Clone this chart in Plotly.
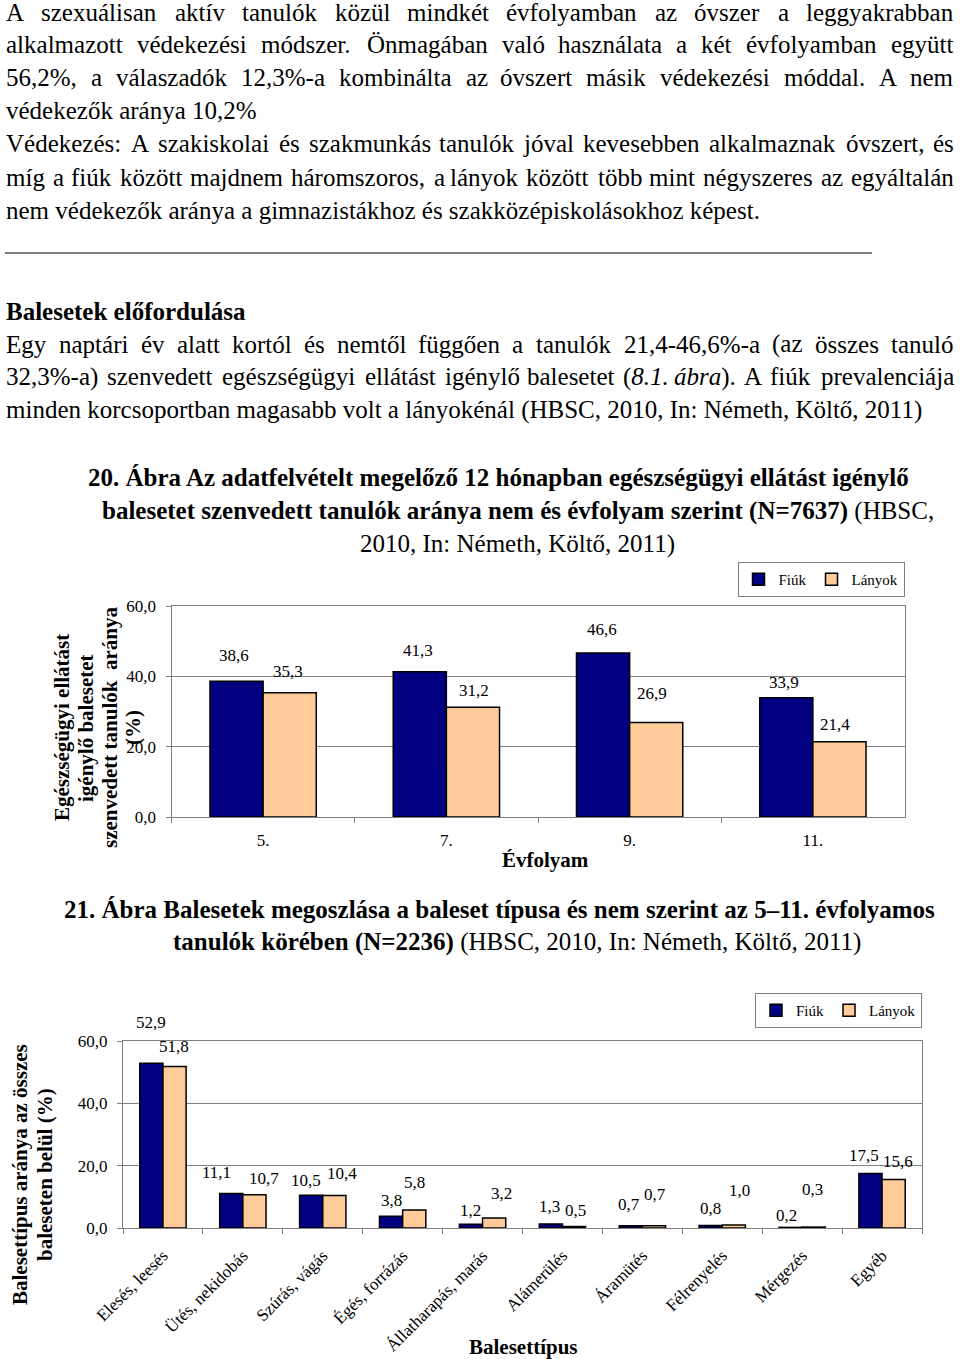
import re
import unicodedata
import plotly.graph_objects as go

# ---------------- data ----------------
series_names = ["Fiúk", "Lányok"]
series_colors = ["#000080", "#FFCC99"]

grades = ["5.", "7.", "9.", "11."]
boys_grade = [38.6, 41.3, 46.6, 33.9]
girls_grade = [35.3, 31.2, 26.9, 21.4]

acc_types = ["Elesés, leesés", "Ütés, nekidobás", "Szúrás, vágás", "Égés, forrázás",
             "Állatharapás, marás", "Alámerülés", "Áramütés", "Félrenyelés",
             "Mérgezés", "Egyéb"]
boys_type = [52.9, 11.1, 10.5, 3.8, 1.2, 1.3, 0.7, 0.8, 0.2, 17.5]
girls_type = [51.8, 10.7, 10.4, 5.8, 3.2, 0.5, 0.7, 1.0, 0.3, 15.6]

y_ticks = [0, 20, 40, 60]

# label pixel nudges (style only): (dx, dy) ; dy>0 = upward
lab1_boys = [(-3, 26), (-2, 21), (-1, 24), (-2, 15)]
lab1_girls = [(-2, 21), (1, 17), (-4, 29), (-4, 17)]
lab2_boys = [(0, 41), (-15, 21), (-5, 15), (0, 16), (0, 14), (-1, 17), (-2, 21), (0, 17), (-4, 12), (-6, 18)]
lab2_girls = [(-1, 20), (10, 16), (8, 22), (0, 27), (7, 25), (1, 16), (1, 31), (6, 34), (-1, 38), (4, 18)]

# ---------------- helpers ----------------
W, H = 960, 1359
SERIF = "Liberation Serif, Times New Roman, serif"
BODY = 25.0
GRID = "#808080"


def px(x):
    return x / W


def py(y):
    return 1 - y / H


TIMES = {' ': 250, '!': 333, '%': 833, '(': 333, ')': 333, ',': 250, '-': 333, '.': 250,
         ':': 278, ';': 278, '=': 564, '–': 500, '?': 444}
for d in "0123456789":
    TIMES[d] = 500
TIMES.update(dict(zip("ABCDEFGHIJKLMNOPQRSTUVWXYZ",
                      [722, 667, 667, 722, 611, 556, 722, 722, 333, 389, 722, 611, 889, 722, 722,
                       556, 722, 667, 556, 611, 722, 722, 944, 722, 722, 611])))
TIMES.update(dict(zip("abcdefghijklmnopqrstuvwxyz",
                      [444, 500, 444, 500, 444, 333, 500, 500, 278, 278, 500, 278, 778, 500, 500,
                       500, 500, 333, 389, 278, 500, 500, 722, 500, 500, 444])))


def text_w(s, size):
    s = re.sub(r"<[^>]+>", "", s)
    tot = 0
    for ch in s:
        base = unicodedata.normalize("NFD", ch)[0]
        tot += TIMES.get(base, 500)
    return tot / 1000 * size * 1.006


annotations = []


def ann(text, x, y, xanchor="left", size=BODY, angle=0, **kw):
    annotations.append(dict(text=text, x=px(x), y=py(y), xref="paper", yref="paper",
                            xanchor=xanchor, yanchor="middle", showarrow=False,
                            textangle=angle, borderpad=0,
                            font=dict(family=SERIF, size=size, color="black"), **kw))


def line(text, y, justify, x0=5, x1=955):
    words = text.split(" ")
    if not justify:
        ann(text, x0, y)
        return
    widths = [text_w(w, BODY) for w in words]
    n = len(words)
    gap = (x1 - x0 - sum(widths)) / (n - 1)
    mid = n // 2
    # left half, laid out from the left margin
    x = x0
    for i in range(mid):
        ann(words[i], x, y, xanchor="left")
        x += widths[i] + gap
    # right half, laid out from the right margin
    x = x1
    for i in range(n - 1, mid - 1, -1):
        ann(words[i], x, y, xanchor="right")
        x -= widths[i] + gap


# ---------------- body text ----------------
para1 = [
    ("A szexuálisan aktív tanulók közül mindkét évfolyamban az óvszer a leggyakrabban", True),
    ("alkalmazott védekezési módszer. Önmagában való használata a két évfolyamban együtt", True),
    ("56,2%, a válaszadók 12,3%-a kombinálta az óvszert másik védekezési móddal. A nem", True),
    ("védekezők aránya 10,2%", False),
    ("Védekezés: A szakiskolai és szakmunkás tanulók jóval kevesebben alkalmaznak óvszert, és", True),
    ("míg a fiúk között majdnem háromszoros, a lányok között több mint négyszeres az egyáltalán", True),
    ("nem védekezők aránya a gimnazistákhoz és szakközépiskolásokhoz képest.", False),
]
for i, (t, j) in enumerate(para1):
    line(t, 12 + 33 * i, j)

ann("<b>Balesetek előfordulása</b>", 5, 311)
para2 = [
    ("Egy naptári év alatt kortól és nemtől függően a tanulók 21,4-46,6%-a (az összes tanuló", True),
    ("32,3%-a) szenvedett egészségügyi ellátást igénylő balesetet (<i>8.1.</i> <i>ábra</i>). A fiúk prevalenciája", True),
    ("minden korcsoportban magasabb volt a lányokénál (HBSC, 2010, In: Németh, Költő, 2011)", False),
]
for i, (t, j) in enumerate(para2):
    line(t, 344 + 33 * i, j)

# figure captions
ann("<b>20. Ábra Az adatfelvételt megelőző 12 hónapban egészségügyi ellátást igénylő</b>", 498.5, 478, "center")
ann("<b>balesetet szenvedett tanulók aránya nem és évfolyam szerint (N=7637)</b> (HBSC,", 518, 511, "center")
ann("2010, In: Németh, Költő, 2011)", 517, 544, "center")
ann("<b>21. Ábra Balesetek megoszlása a baleset típusa és nem szerint az 5–11. évfolyamos</b>", 499, 909, "center")
ann("<b>tanulók körében (N=2236)</b> (HBSC, 2010, In: Németh, Költő, 2011)", 517, 942, "center")

# axis titles
for xx, t in zip([62, 86, 110, 133], ["Egészségügyi ellátást", "igénylő balesetet",
                                       "szenvedett tanulók  aránya", "(%)"]):
    ann("<b>" + t + "</b>", xx, 728, "center", size=21, angle=-90)
ann("<b>Évfolyam</b>", 545, 860, "center", size=21)
for xx, t in zip([20, 45], ["Balesettípus aránya az összes", "baleseten belül (%)"]):
    ann("<b>" + t + "</b>", xx, 1175, "center", size=21, angle=-90)
ann("<b>Balesettípus</b>", 523, 1347, "center", size=21)

# ---------------- charts ----------------
BARGAP = 0.42
half = (1 - BARGAP) / 4  # offset of each bar centre from category centre


def fmt(v):
    return f"{v:.1f}".replace(".", ",")


fig = go.Figure()

for vals, name, col, legend, xa, ya, cats in [
        (boys_grade, series_names[0], series_colors[0], "legend", "x", "y", grades),
        (girls_grade, series_names[1], series_colors[1], "legend", "x", "y", grades),
        (boys_type, series_names[0], series_colors[0], "legend2", "x2", "y2", acc_types),
        (girls_type, series_names[1], series_colors[1], "legend2", "x2", "y2", acc_types)]:
    fig.add_trace(go.Bar(x=cats, y=vals, name=name, legend=legend, xaxis=xa, yaxis=ya,
                         marker=dict(color=col, line=dict(color="black", width=1.5)),
                         hoverinfo="skip"))

# data labels
for vals, nudges, sign, xr, yr in [(boys_grade, lab1_boys, -1, "x", "y"),
                                    (girls_grade, lab1_girls, 1, "x", "y"),
                                    (boys_type, lab2_boys, -1, "x2", "y2"),
                                    (girls_type, lab2_girls, 1, "x2", "y2")]:
    for i, v in enumerate(vals):
        dx, dy = nudges[i]
        annotations.append(dict(text=fmt(v), x=i + sign * half, y=v, xref=xr, yref=yr,
                                xanchor="center", yanchor="middle", showarrow=False,
                                xshift=dx, yshift=dy,
                                font=dict(family=SERIF, size=17, color="black")))

axis_common = dict(showline=True, linecolor=GRID, linewidth=1, mirror=True,
                   ticks="outside", ticklen=5, tickcolor=GRID, automargin=False,
                   tickfont=dict(family=SERIF, size=17, color="black"), fixedrange=True)

fig.update_layout(
    width=W, height=H, margin=dict(l=0, r=0, t=0, b=0, pad=0, autoexpand=False),
    paper_bgcolor="white", plot_bgcolor="white",
    separators=", ",
    barmode="group", bargap=BARGAP, bargroupgap=0,
    showlegend=True,
    font=dict(family=SERIF, color="black"),
    xaxis=dict(domain=[px(171.5), px(904.5)], anchor="y", type="category",
               tickson="boundaries", range=[-0.5, 3.5], ticklabelstandoff=8, **axis_common),
    yaxis=dict(domain=[py(817), py(606)], anchor="x", range=[0, 60], tickvals=y_ticks,
               tickformat=".1f", showgrid=True, gridcolor=GRID, gridwidth=1, zeroline=False,
               ticklabelstandoff=6, **axis_common),
    xaxis2=dict(domain=[px(123), px(922)], anchor="y2", type="category",
                tickson="boundaries", range=[-0.5, 9.5], tickangle=-45,
                ticklabelstandoff=10, **axis_common),
    yaxis2=dict(domain=[py(1228), py(1041)], anchor="x2", range=[0, 60], tickvals=y_ticks,
                tickformat=".1f", showgrid=True, gridcolor=GRID, gridwidth=1, zeroline=False,
                ticklabelstandoff=6, **axis_common),
    legend=dict(orientation="h", x=px(904.5), xanchor="right", y=py(562), yanchor="top",
                bgcolor="white", bordercolor=GRID, borderwidth=1, itemwidth=30,
                font=dict(family=SERIF, size=15, color="black")),
    legend2=dict(orientation="h", x=px(922), xanchor="right", y=py(993), yanchor="top",
                 bgcolor="white", bordercolor=GRID, borderwidth=1, itemwidth=30,
                 font=dict(family=SERIF, size=15, color="black")),
    annotations=annotations,
    shapes=[dict(type="line", xref="paper", yref="paper", x0=px(5), x1=px(872),
                 y0=py(253), y1=py(253), line=dict(color="black", width=1))],
)

fig.write_html("out.html", config={"displayModeBar": False},
               post_script="document.body.style.margin='0px';document.body.style.overflow='hidden';")
